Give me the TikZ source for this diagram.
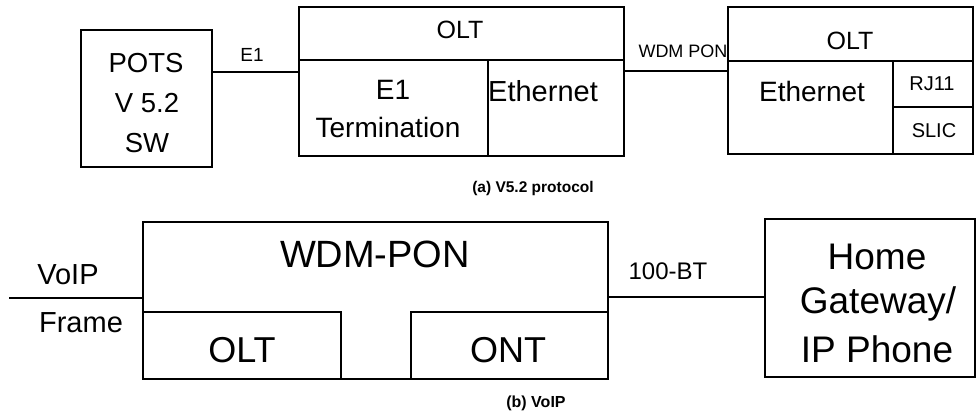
\documentclass[tikz,border=0pt]{standalone}
\usepackage{fontspec}
\setmainfont{Liberation Sans}
\newcommand\fsz[1]{\fontsize{#1}{#1}\selectfont}
\tikzset{
  box/.style={draw, line width=1.8pt, rectangle, inner sep=0pt, outer sep=0pt},
  lbl/.style={inner sep=0pt, anchor=base},
  wire/.style={line width=1.8pt},
}
\begin{document}
\begin{tikzpicture}[x=1pt,y=-1pt]
\useasboundingbox (0,0) rectangle (978,414);
% ---------- (a) ----------
\node[box, minimum width=131pt, minimum height=137pt] (pots) at (146.5,98.5) {};
\node[box, minimum width=325pt, minimum height=53pt] (oltaTop) at (461.5,33.5) {};
\node[box, minimum width=189pt, minimum height=96pt] (e1term) at (393.5,108) {};
\node[box, minimum width=136pt, minimum height=96pt] (etha) at (556,108) {};
\node[box, minimum width=245pt, minimum height=54pt] (oltbTop) at (850.5,34) {};
\node[box, minimum width=165pt, minimum height=93pt] (ethb) at (810.5,107.5) {};
\node[box, minimum width=80pt, minimum height=46pt] (rj) at (933,84) {};
\node[box, minimum width=80pt, minimum height=47pt] (slic) at (933,130.5) {};

\coordinate (e1y) at (0,72);
\coordinate (wdmy) at (0,71);
\draw[wire] (pots.east |- e1y) -- (e1term.west |- e1y);
\draw[wire] (etha.east |- wdmy) -- (ethb.west |- wdmy);

\node[lbl, font=\fsz{27.5}] (t1) at (146,73) {POTS};
\node[lbl, font=\fsz{27.5}] (t2) at (147,113) {V 5.2};
\node[lbl, font=\fsz{27.5}] (t3) at (147,153) {SW};
\node[lbl, font=\fsz{19}] (le1) at (252,62) {E1};
\node[lbl, font=\fsz{25}] (t4) at (460,39) {OLT};
\node[lbl, font=\fsz{28}] (t5) at (393,100) {E1};
\node[lbl, font=\fsz{28}] (t6) at (388,138) {Termination};
\node[lbl, font=\fsz{29}, anchor=base west] (t7) at (488,102) {Ethernet};
\node[lbl, font=\fsz{18}] (lwdm) at (683,58) {WDM PON};
\node[lbl, font=\fsz{25}] (t8) at (850,50) {OLT};
\node[lbl, font=\fsz{28}] (t9) at (812,102) {Ethernet};
\node[lbl, font=\fsz{20}] (t10) at (932,91) {RJ11};
\node[lbl, font=\fsz{20}] (t11) at (934,138) {SLIC};
\node[lbl, font=\bfseries\fsz{15.5}] (capa) at (533,193) {(a) V5.2 protocol};

% ---------- (b) ----------
\node[box, minimum width=465pt, minimum height=157pt] (wdm) at (375.5,300.5) {};
\node[box, minimum width=198pt, minimum height=67pt] (olt) at (242,345.5) {};
\node[box, minimum width=197pt, minimum height=67pt] (ont) at (509.5,345.5) {};
\node[box, minimum width=210pt, minimum height=158pt] (home) at (870,298) {};

\coordinate (voipend) at (9,298);
\coordinate (bty) at (0,297);
\draw[wire] (voipend) -- (wdm.west |- voipend);
\draw[wire] (wdm.east |- bty) -- (home.west |- bty);

\node[lbl, font=\fsz{29}] (t12) at (68,285) {VoIP};
\node[lbl, font=\fsz{29}] (t13) at (81,333) {Frame};
\node[lbl, font=\fsz{38}] (t14) at (375,268) {WDM-PON};
\node[lbl, font=\fsz{36}] (t15) at (242,362) {OLT};
\node[lbl, font=\fsz{36}] (t16) at (508,362) {ONT};
\node[lbl, font=\fsz{24}] (l100) at (668,280) {100-BT};
\node[lbl, font=\fsz{37}] (t17) at (877,270) {Home};
\node[lbl, font=\fsz{37}] (t18) at (878,314) {Gateway/};
\node[lbl, font=\fsz{37}] (t19) at (877,362) {IP Phone};
\node[lbl, font=\bfseries\fsz{16}] (capb) at (536,407) {(b) VoIP};
\end{tikzpicture}
\end{document}
